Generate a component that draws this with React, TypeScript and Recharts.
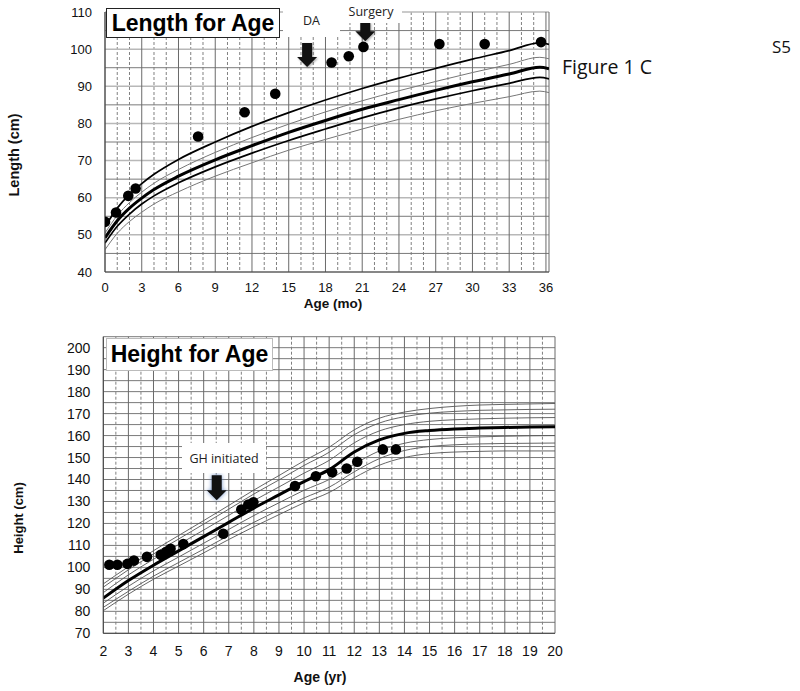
import React from 'react';
import {
  CartesianGrid,
  ComposedChart,
  Line,
  ReferenceDot,
  Scatter,
  XAxis,
  YAxis,
} from 'recharts';

// ---- Length for Age (0-36 months) ----
const lfaMonths = [0, 1, 2, 3, 4, 6, 9, 12, 15, 18, 21, 24, 27, 30, 33, 35.5, 36.25];
const lfaP5 = [46.0, 50.4, 53.6, 56.1, 58.3, 61.6, 65.8, 69.4, 72.8, 75.7, 78.5, 81.1, 83.4, 85.4, 87.2, 88.7, 88.3];
const lfaP25 = [47.8, 52.3, 55.6, 58.3, 60.5, 64.0, 68.3, 72.0, 75.4, 78.5, 81.5, 84.2, 86.6, 88.8, 90.8, 92.4, 92.0];
const lfaP50 = [49.2, 53.8, 57.2, 59.9, 62.2, 65.8, 70.2, 74.0, 77.6, 80.8, 83.8, 86.4, 88.9, 91.2, 93.3, 95.1, 94.7];
const lfaP75 = [50.5, 55.2, 58.7, 61.5, 63.9, 67.6, 72.2, 76.2, 79.8, 83.1, 86.1, 88.8, 91.3, 93.7, 95.9, 97.8, 97.4];
const lfaP95 = [52.2, 57.2, 60.9, 63.8, 66.3, 70.3, 75.0, 79.2, 82.9, 86.3, 89.4, 92.2, 94.8, 97.3, 99.6, 101.7, 101.3];

const patientMonths = [0, 0.9, 1.9, 2.5, 7.6, 11.4, 13.9, 18.5, 19.9, 21.1, 27.3, 31.0, 35.6];
const patientLength = [53.5, 56.0, 60.5, 62.5, 76.5, 83.0, 88.0, 96.4, 98.1, 100.6, 101.4, 101.4, 101.9];

const monthTicks = [0, 3, 6, 9, 12, 15, 18, 21, 24, 27, 30, 33, 36];
const lengthTicks = [40, 50, 60, 70, 80, 90, 100, 110];

// ---- Height for Age (2-20 years) ----
const hfaAges = [2, 3, 4, 5, 6, 7, 8, 9, 10, 11, 12, 13, 14, 15, 16, 17, 18, 19, 20];
const hfaP5 = [80.3, 87.8, 94.6, 100.6, 106.6, 112.7, 118.5, 124.0, 129.4, 134.1, 140.8, 146.5, 150.0, 151.8, 152.5, 152.8, 153.0, 153.0, 153.0];
const hfaP10 = [81.8, 89.1, 96.0, 102.2, 108.3, 114.5, 120.5, 126.1, 131.6, 136.5, 143.5, 149.5, 153.2, 155.0, 155.8, 156.2, 156.4, 156.5, 156.6];
const hfaP25 = [83.7, 91.4, 98.4, 104.7, 111.0, 117.3, 123.6, 129.4, 135.1, 140.0, 147.0, 153.0, 156.5, 158.2, 159.0, 159.4, 159.7, 159.9, 160.0];
const hfaP50 = [86.0, 94.0, 101.0, 107.5, 114.0, 120.5, 127.0, 133.0, 139.0, 144.5, 152.5, 158.0, 161.0, 162.3, 163.0, 163.4, 163.7, 163.9, 164.0];
const hfaP75 = [88.5, 96.6, 103.7, 110.4, 117.0, 123.7, 130.4, 136.6, 142.9, 148.7, 156.7, 162.1, 165.0, 166.5, 167.2, 167.6, 167.9, 168.1, 168.2];
const hfaP90 = [91.0, 98.9, 106.1, 112.9, 119.7, 126.5, 133.4, 139.8, 146.4, 152.4, 160.4, 165.7, 168.6, 170.2, 171.0, 171.5, 171.7, 171.9, 172.0];
const hfaP95 = [92.5, 100.3, 107.6, 114.5, 121.3, 128.2, 135.2, 141.8, 148.5, 154.7, 162.6, 167.9, 170.7, 172.3, 173.3, 173.9, 174.2, 174.4, 174.6];

const patientAges = [2.24, 2.56, 2.96, 3.22, 3.74, 4.29, 4.5, 4.68, 5.19, 6.78, 7.5, 7.78, 7.98, 9.64, 10.47, 11.12, 11.7, 12.12, 13.14, 13.66];
const patientHeight = [101.2, 101.2, 101.6, 103.1, 104.8, 105.7, 107.0, 108.5, 110.6, 115.3, 126.3, 128.6, 129.6, 137.0, 141.5, 143.3, 145.0, 148.1, 153.7, 153.7];

const ageTicks = [2, 3, 4, 5, 6, 7, 8, 9, 10, 11, 12, 13, 14, 15, 16, 17, 18, 19, 20];
const heightTicks = [70, 80, 90, 100, 110, 120, 130, 140, 150, 160, 170, 180, 190, 200];

const toPts = (xs: number[], ys: number[]) => xs.map((x, i) => ({ x, y: ys[i] }));

// grid values
const monthMinor = Array.from({ length: 37 }, (_, i) => i).filter((m) => m % 3 !== 0);
const monthMajor = [...monthTicks, 36.25];
const lenMinor = [45, 55, 65, 75, 85, 95, 105];
const ageMinor = ageTicks.slice(0, -1).map((a) => a + 0.5);
const heightGrid = Array.from({ length: 28 }, (_, i) => 70 + i * 5);

// map grid values through the axis scale
const scaled = (vals: number[], key: 'xAxis' | 'yAxis') => (props: any) => {
  const s = props?.[key]?.scale;
  if (!s) return [];
  return vals.map((v) => (typeof s === 'function' ? s(v) : s.map(v)));
};

const SANS = '"Liberation Sans", Arial, sans-serif';
const CAL = '"Open Sans", "Noto Sans", sans-serif';

const BigDot = (p: any) => <circle cx={p.cx} cy={p.cy} r={5.3} fill="#000" />;

function arrowShape(len: number, glow?: string) {
  return (p: any) => {
    const { cx, cy } = p;
    const hw = 10;
    const sw = 5;
    const hh = 10;
    const pts = [
      [cx, cy],
      [cx - hw, cy - hh],
      [cx - sw, cy - hh],
      [cx - sw, cy - len],
      [cx + sw, cy - len],
      [cx + sw, cy - hh],
      [cx + hw, cy - hh],
    ]
      .map((q) => q.join(','))
      .join(' ');
    return (
      <polygon
        points={pts}
        fill="#111"
        style={{ filter: glow ? `drop-shadow(0 0 2px ${glow})` : 'drop-shadow(1px 1px 1px rgba(0,0,0,0.35))' }}
      />
    );
  };
}

const tickStyle13 = { fill: '#111', fontSize: 13, fontFamily: SANS };
const tickStyle14 = { fill: '#111', fontSize: 14, fontFamily: SANS };

function LengthChart() {
  return (
    <ComposedChart width={800} height={300} margin={{ top: 12, right: 251, bottom: 8, left: 65 }}>
      <CartesianGrid horizontal={false} verticalCoordinatesGenerator={scaled(monthMinor, 'xAxis')} stroke="#808080" strokeDasharray="3 2" />
      <CartesianGrid vertical={false} horizontalCoordinatesGenerator={scaled(lenMinor, 'yAxis')} stroke="#7a7a7a" />
      <CartesianGrid vertical={false} horizontalCoordinatesGenerator={scaled(lengthTicks, 'yAxis')} stroke="#b8b8b8" strokeWidth={1.5} />
      <CartesianGrid horizontal={false} verticalCoordinatesGenerator={scaled(monthMajor, 'xAxis')} stroke="#6a6a6a" />
      <XAxis
        type="number"
        dataKey="x"
        domain={[0, 36.25]}
        ticks={monthTicks}
        height={20}
        tickLine={false}
        tickSize={9}
        tickMargin={2}
        axisLine={{ stroke: '#444' }}
        tick={tickStyle13}
        allowDataOverflow
      />
      <YAxis
        type="number"
        dataKey="y"
        domain={[40, 110]}
        ticks={lengthTicks}
        width={40}
        tickLine={false}
        tickSize={10}
        tickMargin={3}
        axisLine={{ stroke: '#444' }}
        tick={tickStyle13}
        allowDataOverflow
      />
      <Line data={toPts(lfaMonths, lfaP5)} dataKey="y" type="monotone" stroke="#777" strokeWidth={1} dot={false} isAnimationActive={false} />
      <Line data={toPts(lfaMonths, lfaP75)} dataKey="y" type="monotone" stroke="#777" strokeWidth={1} dot={false} isAnimationActive={false} />
      <Line data={toPts(lfaMonths, lfaP25)} dataKey="y" type="monotone" stroke="#000" strokeWidth={1.7} dot={false} isAnimationActive={false} />
      <Line data={toPts(lfaMonths, lfaP95)} dataKey="y" type="monotone" stroke="#000" strokeWidth={1.7} dot={false} isAnimationActive={false} />
      <Line data={toPts(lfaMonths, lfaP50)} dataKey="y" type="monotone" stroke="#000" strokeWidth={3} dot={false} isAnimationActive={false} />
      <Scatter data={toPts(patientMonths, patientLength)} dataKey="y" shape={BigDot} isAnimationActive={false} />
      <ReferenceDot x={16.5} y={95.2} shape={arrowShape(24)} />
      <ReferenceDot x={21.25} y={102.1} shape={arrowShape(19)} />
    </ComposedChart>
  );
}

function HeightChart() {
  return (
    <ComposedChart width={800} height={340} margin={{ top: 6.7, right: 245, bottom: 6.7, left: 63.3 }}>
      <CartesianGrid vertical={false} horizontalCoordinatesGenerator={scaled(heightGrid, 'yAxis')} stroke="#7a7a7a" />
      <CartesianGrid horizontal={false} verticalCoordinatesGenerator={scaled(ageMinor, 'xAxis')} stroke="#808080" strokeDasharray="3 2" />
      <CartesianGrid horizontal={false} verticalCoordinatesGenerator={scaled(ageTicks, 'xAxis')} stroke="#6a6a6a" />
      <XAxis
        type="number"
        dataKey="x"
        domain={[2, 20]}
        ticks={ageTicks}
        height={30}
        tickLine={false}
        tickSize={10}
        tickMargin={3}
        axisLine={{ stroke: '#444' }}
        tick={tickStyle14}
        allowDataOverflow
      />
      <YAxis
        type="number"
        dataKey="y"
        domain={[70, 205]}
        ticks={heightTicks}
        width={40}
        tickLine={false}
        tickSize={10}
        tickMargin={3}
        axisLine={{ stroke: '#444' }}
        tick={tickStyle14}
        allowDataOverflow
      />
      {[hfaP5, hfaP10, hfaP25, hfaP75, hfaP90, hfaP95].map((arr, i) => (
        <Line key={i} data={toPts(hfaAges, arr)} dataKey="y" type="monotone" stroke="#555" strokeWidth={0.9} dot={false} isAnimationActive={false} />
      ))}
      <Line data={toPts(hfaAges, hfaP50)} dataKey="y" type="monotone" stroke="#000" strokeWidth={3} dot={false} isAnimationActive={false} />
      <Scatter data={toPts(patientAges, patientHeight)} dataKey="y" shape={BigDot} isAnimationActive={false} />
      <ReferenceDot x={6.52} y={130.6} shape={arrowShape(25, '#6d8fc7')} />
    </ComposedChart>
  );
}

const abs = (s: React.CSSProperties): React.CSSProperties => ({ position: 'absolute', ...s });

export default function App() {
  return (
    <div style={abs({ left: 0, top: 0, width: 800, height: 691, background: '#fff', fontFamily: SANS, overflow: 'hidden' })}>
      <div style={abs({ left: 0, top: 0 })}>
        <LengthChart />
      </div>
      <div style={abs({ left: 0, top: 330 })}>
        <HeightChart />
      </div>

      {/* titles */}
      <div style={abs({ left: 106, top: 8, width: 174, height: 30, boxSizing: 'border-box', border: '1.5px solid #222', background: '#fff', display: 'flex', alignItems: 'center', justifyContent: 'center', fontWeight: 'bold', fontSize: 23, whiteSpace: 'nowrap' })}>
        Length for Age
      </div>
      <div style={abs({ left: 106, top: 338, width: 167, height: 33, boxSizing: 'border-box', border: '1px solid #bbb', background: '#fff', display: 'flex', alignItems: 'center', justifyContent: 'center', fontWeight: 'bold', fontSize: 23, whiteSpace: 'nowrap' })}>
        Height for Age
      </div>

      {/* annotation labels */}
      <div style={abs({ left: 283, top: 4, width: 57, height: 33, background: '#fff', display: 'flex', alignItems: 'center', justifyContent: 'center', fontFamily: CAL, fontSize: 12.5, color: '#222' })}>
        DA
      </div>
      <div style={abs({ left: 340, top: 0, width: 62, height: 23, background: '#fff', display: 'flex', alignItems: 'center', justifyContent: 'center', fontFamily: CAL, fontSize: 12.5, color: '#222' })}>
        Surgery
      </div>
      <div style={abs({ left: 182, top: 443, width: 84, height: 30, background: '#fff', display: 'flex', alignItems: 'center', justifyContent: 'center', fontFamily: CAL, fontSize: 12.5, color: '#222', whiteSpace: 'nowrap' })}>
        GH initiated
      </div>

      {/* axis titles */}
      <div style={abs({ left: 14, top: 155, transform: 'translate(-50%, -50%) rotate(-90deg)', fontWeight: 'bold', fontSize: 14.5, whiteSpace: 'nowrap', color: '#111' })}>
        Length (cm)
      </div>
      <div style={abs({ left: 333, top: 304, transform: 'translate(-50%, -50%)', fontWeight: 'bold', fontSize: 13.5, lineHeight: '14px', whiteSpace: 'nowrap', color: '#111' })}>
        Age (mo)
      </div>
      <div style={abs({ left: 18, top: 518, transform: 'translate(-50%, -50%) rotate(-90deg)', fontWeight: 'bold', fontSize: 13, whiteSpace: 'nowrap', color: '#111' })}>
        Height (cm)
      </div>
      <div style={abs({ left: 320, top: 677, transform: 'translate(-50%, -50%)', fontWeight: 'bold', fontSize: 14, whiteSpace: 'nowrap', color: '#111' })}>
        Age (yr)
      </div>

      {/* figure labels */}
      <div style={abs({ left: 562, top: 53, fontFamily: CAL, fontSize: 19.5, color: '#111', whiteSpace: 'nowrap' })}>Figure 1 C</div>
      <div style={abs({ left: 772, top: 35, fontFamily: CAL, fontSize: 17, color: '#111', whiteSpace: 'nowrap' })}>S5</div>
    </div>
  );
}
